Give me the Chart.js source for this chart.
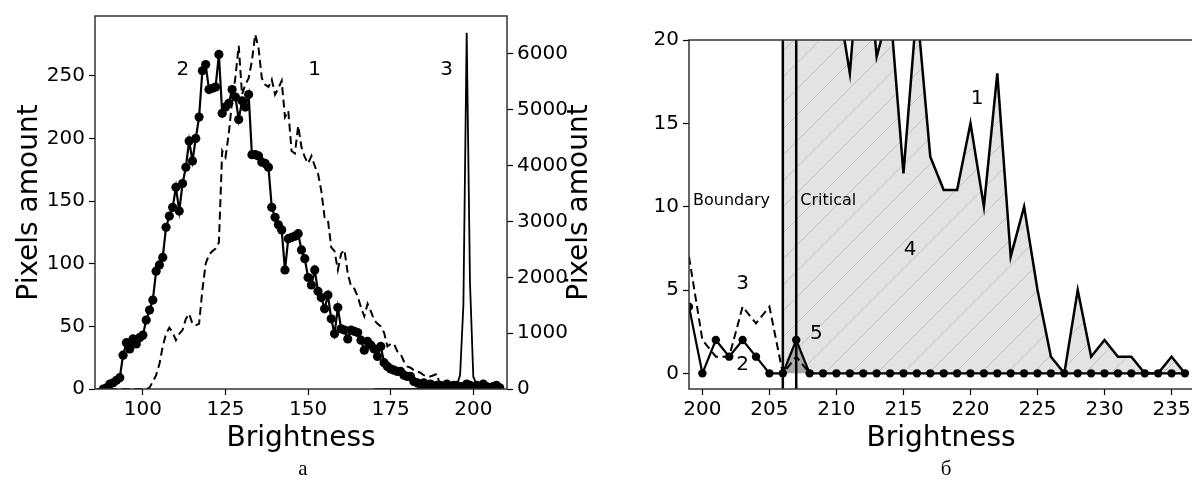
<!DOCTYPE html>
<html>
<head>
<meta charset="utf-8">
<script src="https://cdn.jsdelivr.net/npm/chart.js@4.4.1/dist/chart.umd.min.js"></script>
<style>
  body { margin: 0; width: 1192px; height: 483px; overflow: hidden; background: #fff; position: relative; }
  canvas { position: absolute; top: 0; }
  #chartA { left: 0; }
  #chartB { left: 600px; }
  .cap { position: absolute; top: 456px; width: 40px; margin-left: -20px; text-align: center;
         font-family: 'Liberation Serif', serif; font-size: 21px; color: #000; }
</style>
</head>
<body>
<canvas id="chartA" width="600" height="460"></canvas>
<canvas id="chartB" width="600" height="460"></canvas>
<div class="cap" style="left:303px">а</div>
<div class="cap" style="left:946px">б</div>
<script>
// ---- panel а: histograms over the whole brightness range ----
const dotsStartA = 88;   // curve 2, one value per brightness level
const dotsA = [0, 1, 4, 5, 7, 9, 27, 37, 32, 40, 36, 41, 43, 55, 63, 71, 94, 99, 105, 129,
  138, 145, 161, 142, 164, 177, 198, 182, 200, 217, 254, 259, 239, 240, 241, 267, 220, 225, 228, 239,
  233, 215, 230, 225, 235, 187, 187, 186, 181, 180, 177, 145, 137, 131, 127, 95, 120, 121, 122, 124,
  111, 104, 89, 83, 95, 78, 73, 64, 75, 56, 44, 65, 48, 47, 40, 47, 46, 45, 39, 31,
  38, 35, 32, 26, 34, 21, 18, 16, 15, 14, 14, 11, 10, 10, 6, 5, 4, 5, 3, 4,
  2, 3, 3, 2, 4, 2, 3, 3, 2, 2, 4, 3, 2, 3, 2, 4, 2, 1, 2, 3, 1];
const dashStartA = 86;   // curve 1
const dashA = [0, 0, 0, 0, 0, 0, 0, 0, 0, 0, 0, 0, 0, 0, 0, 0, 1, 6, 11, 20,
  34, 44, 49, 45, 39, 44, 47, 56, 60, 52, 51, 52, 79, 100, 107, 110, 112, 117, 190, 185,
  204, 230, 249, 274, 235, 243, 248, 262, 283, 272, 248, 243, 241, 247, 235, 240, 246, 217, 222, 190,
  188, 210, 193, 185, 180, 186, 178, 172, 158, 137, 135, 113, 110, 95, 108, 111, 92, 82, 80, 74,
  65, 58, 68, 62, 55, 52, 50, 45, 34, 36, 36, 30, 28, 22, 18, 17, 15, 14, 13, 11,
  10, 10, 11, 12, 2, 0];
const spikeStartA = 170; // curve 3, right axis
const spikeA = [0, 0, 0, 0, 0, 0, 0, 0, 0, 0, 0, 0, 0, 10, 20, 15, 30, 20, 40, 30,
  50, 40, 60, 50, 70, 60, 250, 1500, 6380, 1900, 220, 80, 60, 40, 50, 30, 40, 20, 30];
const xTicksA = [100, 125, 150, 175, 200];
const yTicksA = [0, 50, 100, 150, 200, 250];
const y2TicksA = [0, 1000, 2000, 3000, 4000, 5000, 6000];
const notesA = [['2', 112.1, 255], ['1', 152, 255], ['3', 191.9, 255]];

// ---- panel б: zoom on the bright end ----
const areaStartB = 206;  // curve 1 (area 4)
const areaB = [30, 40, 38, 32, 23, 18, 28, 19, 22, 12, 22, 13, 11, 11, 15, 10, 18, 7, 10, 5,
  1, 0, 5, 1, 2, 1, 1, 0, 0, 1, 0];
const dotsStartB = 199;  // curve 2
const dotsB = [4, 0, 2, 1, 2, 1, 0, 0, 2, 0, 0, 0, 0, 0, 0, 0, 0, 0, 0, 0,
  0, 0, 0, 0, 0, 0, 0, 0, 0, 0, 0, 0, 0, 0, 0, 0, 0, 0];
const dashStartB = 199;  // curve 3
const dashB = [7, 2, 1, 1, 4, 3, 4, 0, 1, 0];
const levelsB = [206, 207];       // Boundary, Critical
const zone5B = [206, 208];        // area 5 under curve 2
const xTicksB = [200, 205, 210, 215, 220, 225, 230, 235];
const yTicksB = [0, 5, 10, 15, 20];
const notesB = [['1', 220.5, 16.5], ['2', 203, 0.5], ['3', 203, 5.4], ['4', 215.5, 7.4], ['5', 208.5, 2.4]];
const wordsB = [['Boundary', 199.3, 10.35], ['Critical', 207.3, 10.35]];

Chart.defaults.font.family = "'DejaVu Sans', sans-serif";
Chart.defaults.color = '#000';

function pts(start, vals) {
  return vals.map((v, i) => ({ x: start + i, y: v }));
}

function hatch() {
  const c = document.createElement('canvas');
  c.width = 26; c.height = 26;
  const g = c.getContext('2d');
  g.fillStyle = '#e3e3e3';
  g.fillRect(0, 0, 26, 26);
  g.strokeStyle = '#c2c2c2';
  g.lineWidth = 1;
  g.beginPath();
  g.moveTo(0, 26); g.lineTo(26, 0);
  g.stroke();
  return g.createPattern(c, 'repeat');
}

const framePlugin = {
  id: 'frame',
  afterDraw(chart) {
    const { ctx, chartArea: a } = chart;
    ctx.save();
    ctx.strokeStyle = '#333';
    ctx.lineWidth = 1.5;
    ctx.strokeRect(a.left, a.top, a.right - a.left, a.bottom - a.top);
    ctx.restore();
  }
};

const levelPlugin = {
  id: 'levels',
  afterDatasetsDraw(chart, args, opts) {
    if (!opts.values) return;
    const { ctx, chartArea: a, scales: { x } } = chart;
    ctx.save();
    ctx.strokeStyle = '#000';
    ctx.lineWidth = 2.5;
    opts.values.forEach(v => {
      const px = x.getPixelForValue(v);
      ctx.beginPath();
      ctx.moveTo(px, a.top);
      ctx.lineTo(px, a.bottom);
      ctx.stroke();
    });
    ctx.restore();
  }
};

const notePlugin = {
  id: 'notes',
  afterDatasetsDraw(chart, args, opts) {
    const { ctx, scales: { x, y } } = chart;
    ctx.save();
    ctx.fillStyle = '#000';
    ctx.textBaseline = 'middle';
    (opts.items || []).forEach(([t, vx, vy]) => {
      ctx.font = opts.size + "px 'DejaVu Sans'";
      ctx.textAlign = 'center';
      ctx.fillText(t, x.getPixelForValue(vx), y.getPixelForValue(vy));
    });
    (opts.words || []).forEach(([t, vx, vy]) => {
      ctx.font = opts.wordSize + "px 'DejaVu Sans'";
      ctx.textAlign = 'left';
      ctx.fillText(t, x.getPixelForValue(vx), y.getPixelForValue(vy));
    });
    if (opts.rightTitle) {
      const a = chart.chartArea;
      ctx.translate(chart.width - 20, (a.top + a.bottom) / 2);
      ctx.rotate(-Math.PI / 2);
      ctx.font = "28px 'DejaVu Sans'";
      ctx.textAlign = 'center';
      ctx.fillText(opts.rightTitle, 0, 0);
    }
    ctx.restore();
  }
};

function fixTicks(list) {
  return scale => { scale.ticks = list.map(v => ({ value: v })); };
}

const tickFont = { size: 20 };
const gridOpts = { drawOnChartArea: false, drawTicks: true, tickLength: 6, tickColor: '#000', tickWidth: 1.2 };

new Chart(document.getElementById('chartA').getContext('2d'), {
  type: 'line',
  data: {
    datasets: [
      { data: pts(dotsStartA, dotsA), yAxisID: 'y', borderColor: '#000', borderWidth: 2.2,
        pointRadius: 4.6, pointBackgroundColor: '#000', pointBorderWidth: 0 },
      { data: pts(dashStartA, dashA), yAxisID: 'y', borderColor: '#000', borderWidth: 2,
        borderDash: [8, 4.5], pointRadius: 0 },
      { data: pts(spikeStartA, spikeA), yAxisID: 'y2', borderColor: '#000', borderWidth: 1.8,
        pointRadius: 0 }
    ]
  },
  options: {
    responsive: false,
    animation: false,
    events: [],
    layout: { padding: { top: 15, bottom: 3, left: 0, right: 0 } },
    scales: {
      x: {
        type: 'linear', min: 85.5, max: 210.2,
        afterFit: s => { s.height = 68; },
        afterBuildTicks: fixTicks(xTicksA),
        ticks: { font: tickFont, padding: 3, maxRotation: 0, callback: v => String(v) },
        grid: gridOpts, border: { display: false },
        title: { display: true, text: 'Brightness', font: { size: 28 }, padding: { top: 0, bottom: 1 } }
      },
      y: {
        type: 'linear', position: 'left', min: 0, max: 297.7,
        afterFit: s => { s.width = 95; },
        afterBuildTicks: fixTicks(yTicksA),
        ticks: { font: tickFont, padding: 4, callback: v => String(v) },
        grid: gridOpts, border: { display: false },
        title: { display: true, text: 'Pixels amount', font: { size: 28 }, padding: { top: 13 } }
      },
      y2: {
        type: 'linear', position: 'right', min: 0, max: 6680,
        afterFit: s => { s.width = 93; },
        afterBuildTicks: fixTicks(y2TicksA),
        ticks: { font: tickFont, padding: 4, callback: v => String(v) },
        grid: gridOpts, border: { display: false }
      }
    },
    plugins: {
      legend: { display: false },
      tooltip: { enabled: false },
      notes: { items: notesA, size: 20, rightTitle: 'Pixels amount' }
    }
  },
  plugins: [notePlugin, framePlugin]
});

new Chart(document.getElementById('chartB').getContext('2d'), {
  type: 'line',
  data: {
    datasets: [
      { data: pts(dotsStartB, dotsB), borderColor: '#000', borderWidth: 2.2,
        pointRadius: 4.2, pointBackgroundColor: '#000', pointBorderWidth: 0 },
      { data: pts(dashStartB, dashB), borderColor: '#000', borderWidth: 2,
        borderDash: [8, 4.5], pointRadius: 0 },
      { data: pts(dotsStartB, dotsB).filter(p => p.x >= zone5B[0] && p.x <= zone5B[1]),
        borderWidth: 0, pointRadius: 0, fill: 'origin', backgroundColor: 'rgba(120,120,120,0.55)' },
      { data: pts(areaStartB, areaB), borderColor: '#000', borderWidth: 2.5, pointRadius: 0,
        fill: 'origin', backgroundColor: hatch() }
    ]
  },
  options: {
    responsive: false,
    animation: false,
    events: [],
    layout: { padding: { top: 40, bottom: 3, left: 0, right: 7 } },
    scales: {
      x: {
        type: 'linear', min: 199, max: 236.6,
        afterFit: s => { s.height = 68; },
        afterBuildTicks: fixTicks(xTicksB),
        ticks: { font: tickFont, padding: 3, maxRotation: 0, callback: v => String(v) },
        grid: gridOpts, border: { display: false },
        title: { display: true, text: 'Brightness', font: { size: 28 }, padding: { top: 0, bottom: 1 } }
      },
      y: {
        type: 'linear', min: -0.94, max: 20,
        afterFit: s => { s.width = 89; },
        afterBuildTicks: fixTicks(yTicksB),
        ticks: { font: tickFont, padding: 4, callback: v => String(v) },
        grid: gridOpts, border: { display: false }
      }
    },
    plugins: {
      legend: { display: false },
      tooltip: { enabled: false },
      levels: { values: levelsB },
      notes: { items: notesB, size: 20, words: wordsB, wordSize: 16 }
    }
  },
  plugins: [levelPlugin, notePlugin, framePlugin]
});
</script>
</body>
</html>
